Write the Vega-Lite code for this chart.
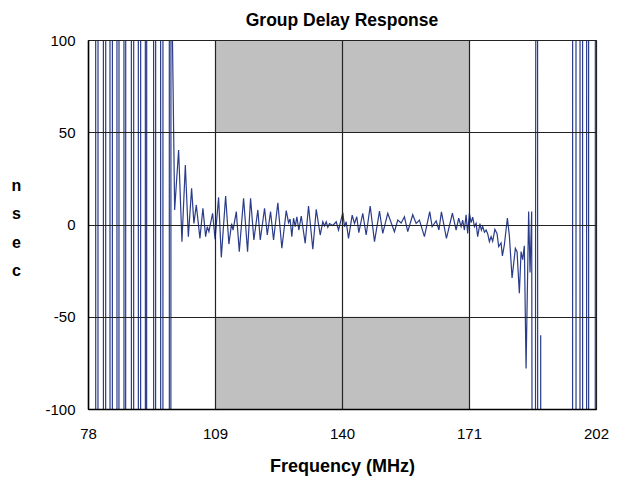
{
  "$schema": "https://vega.github.io/schema/vega-lite/v6.json",
  "width": 508,
  "height": 369,
  "autosize": {"type": "none"},
  "padding": {"left": 88, "top": 40, "right": 25, "bottom": 68},
  "background": "white",
  "config": {"view": {"stroke": "#000", "strokeWidth": 1}, "font": "Liberation Sans"},
  "title": {"text": "Group Delay Response", "fontSize": 17.5, "fontWeight": "bold", "font": "Liberation Sans", "color": "#000", "offset": 4},
  "datasets": {
    "band": [
      {"x1": 109, "x2": 171, "y1": 50, "y2": 100},
      {"x1": 109, "x2": 171, "y1": -100, "y2": -50}
    ],
    "sig": [
      {"f": 78.0, "v": 600}, {"f": 79.85, "v": 600}, {"f": 79.91, "v": -600}, {"f": 80.41, "v": -600}, {"f": 80.47, "v": 600},
      {"f": 81.73, "v": 600}, {"f": 81.79, "v": -600}, {"f": 82.29, "v": -600}, {"f": 82.35, "v": 600},
      {"f": 83.34, "v": 600}, {"f": 83.40, "v": -600}, {"f": 83.92, "v": -600}, {"f": 83.98, "v": 600},
      {"f": 85.04, "v": 600}, {"f": 85.10, "v": -600}, {"f": 85.53, "v": -600}, {"f": 85.59, "v": 600},
      {"f": 86.75, "v": 600}, {"f": 86.81, "v": -600}, {"f": 87.17, "v": -600}, {"f": 87.23, "v": 600},
      {"f": 88.56, "v": 600}, {"f": 88.62, "v": -600}, {"f": 89.12, "v": -600}, {"f": 89.18, "v": 600},
      {"f": 90.26, "v": 600}, {"f": 90.32, "v": -600}, {"f": 90.82, "v": -600}, {"f": 90.88, "v": 600},
      {"f": 91.97, "v": 600}, {"f": 92.03, "v": -600}, {"f": 92.29, "v": -600}, {"f": 92.35, "v": 600},
      {"f": 93.99, "v": 600}, {"f": 94.05, "v": -600}, {"f": 94.48, "v": -600}, {"f": 94.54, "v": 600},
      {"f": 95.70, "v": 600}, {"f": 95.76, "v": -600}, {"f": 96.26, "v": -600}, {"f": 96.32, "v": 600},
      {"f": 97.82, "v": 600}, {"f": 97.88, "v": -600}, {"f": 98.21, "v": -600}, {"f": 98.27, "v": 600},
      {"f": 98.55, "v": 112}, {"f": 99.15, "v": 7.9}, {"f": 100.12, "v": 40.4}, {"f": 100.93, "v": -9.3},
      {"f": 101.76, "v": 32.2}, {"f": 102.49, "v": -6.6}, {"f": 103.29, "v": 19.6}, {"f": 103.85, "v": 0.6},
      {"f": 104.44, "v": 10.6}, {"f": 105.32, "v": -7.5}, {"f": 106.05, "v": 8.8}, {"f": 106.71, "v": -6.6},
      {"f": 107.12, "v": -1.2}, {"f": 107.51, "v": -3.9}, {"f": 108.41, "v": 6.1}, {"f": 109.02, "v": -8},
      {"f": 109.88, "v": 14.7}, {"f": 110.54, "v": -17.8}, {"f": 111.59, "v": 15.4}, {"f": 112.39, "v": -10.6},
      {"f": 113.05, "v": 0.5}, {"f": 113.41, "v": -3}, {"f": 114.20, "v": 7}, {"f": 114.93, "v": -14.7},
      {"f": 115.98, "v": 14.2}, {"f": 116.95, "v": -14.7}, {"f": 117.68, "v": 14.2}, {"f": 118.49, "v": -8.4},
      {"f": 119.46, "v": 7.9}, {"f": 120.05, "v": -8.4}, {"f": 121.10, "v": 8.8}, {"f": 121.76, "v": -5.7},
      {"f": 122.56, "v": 7}, {"f": 123.29, "v": -8.4}, {"f": 124.34, "v": 11.8}, {"f": 125.32, "v": -12.9},
      {"f": 126.39, "v": 7.5}, {"f": 126.95, "v": 1}, {"f": 127.32, "v": 3}, {"f": 127.76, "v": -6.6},
      {"f": 128.17, "v": 3.4}, {"f": 128.59, "v": -1.2}, {"f": 128.98, "v": 4.2}, {"f": 129.46, "v": -3},
      {"f": 130.05, "v": 4.6}, {"f": 131.02, "v": -10.2}, {"f": 131.83, "v": 10}, {"f": 132.88, "v": -13.4},
      {"f": 133.71, "v": 8.2}, {"f": 134.68, "v": -5.7}, {"f": 135.32, "v": 1.5}, {"f": 135.73, "v": -0.8},
      {"f": 136.15, "v": 1.5}, {"f": 136.54, "v": -1.5}, {"f": 136.95, "v": 0.5}, {"f": 137.76, "v": -0.5},
      {"f": 138.59, "v": 1.5}, {"f": 139.15, "v": -3}, {"f": 140.20, "v": 6.4}, {"f": 140.61, "v": -1.2},
      {"f": 141.02, "v": 1.5}, {"f": 141.59, "v": -7.5}, {"f": 142.49, "v": 5.1}, {"f": 143.05, "v": 0.6},
      {"f": 143.61, "v": 4.2}, {"f": 144.10, "v": -4.4}, {"f": 145.07, "v": 6.1}, {"f": 145.90, "v": -5.7},
      {"f": 146.88, "v": 10}, {"f": 147.93, "v": -9.3}, {"f": 149.15, "v": 7.3}, {"f": 149.95, "v": -4.8},
      {"f": 151.17, "v": 6.1}, {"f": 152.80, "v": -3.9}, {"f": 153.61, "v": 2.4}, {"f": 154.44, "v": 0.8},
      {"f": 155.24, "v": 4.2}, {"f": 156.05, "v": -3.9}, {"f": 157.27, "v": 5.3}, {"f": 158.10, "v": 0.6},
      {"f": 158.90, "v": 2.4}, {"f": 160.12, "v": -6.6}, {"f": 161.41, "v": 7}, {"f": 162.00, "v": -1.2},
      {"f": 162.98, "v": 2}, {"f": 163.66, "v": -3}, {"f": 164.27, "v": 6.8}, {"f": 165.49, "v": -7.5},
      {"f": 166.95, "v": 6.1}, {"f": 167.85, "v": -3}, {"f": 168.49, "v": 3.4}, {"f": 169.07, "v": -1.2},
      {"f": 169.46, "v": 2.4}, {"f": 169.88, "v": -3}, {"f": 170.29, "v": 5.3}, {"f": 170.68, "v": -4.8},
      {"f": 171.10, "v": 6.1}, {"f": 171.51, "v": 1}, {"f": 171.90, "v": 4}, {"f": 172.32, "v": -1.2},
      {"f": 172.73, "v": 0.6}, {"f": 173.12, "v": -6.6}, {"f": 173.66, "v": 0.5}, {"f": 174.02, "v": -3},
      {"f": 174.34, "v": -1}, {"f": 174.76, "v": -4.2}, {"f": 175.17, "v": -3}, {"f": 175.56, "v": -5},
      {"f": 175.98, "v": -9.3}, {"f": 176.39, "v": -6.6}, {"f": 176.78, "v": -9}, {"f": 177.32, "v": -2.6},
      {"f": 177.85, "v": -5}, {"f": 178.24, "v": -12}, {"f": 178.83, "v": -10}, {"f": 179.15, "v": -17},
      {"f": 179.63, "v": -11}, {"f": 180.37, "v": 3.5}, {"f": 180.85, "v": -6}, {"f": 181.51, "v": -29},
      {"f": 182.32, "v": -12.9}, {"f": 182.73, "v": -14.7}, {"f": 183.29, "v": -37.3}, {"f": 183.71, "v": -14.7},
      {"f": 184.10, "v": -19}, {"f": 184.51, "v": -11.5}, {"f": 184.93, "v": -78}, {"f": 185.56, "v": 7},
      {"f": 185.90, "v": -26}, {"f": 186.30, "v": 7}, {"f": 186.75, "v": -600}, {"f": 187.15, "v": -600},
      {"f": 187.25, "v": 6}, {"f": 187.55, "v": 600}, {"f": 187.70, "v": 600}, {"f": 187.80, "v": -600},
      {"f": 188.45, "v": -600}, {"f": 188.50, "v": -60}, {"f": 188.55, "v": -600},
      {"f": 196.26, "v": -600}, {"f": 196.32, "v": 600}, {"f": 197.09, "v": 600}, {"f": 197.15, "v": -600},
      {"f": 198.07, "v": -600}, {"f": 198.13, "v": 600}, {"f": 198.70, "v": 600}, {"f": 198.76, "v": -600},
      {"f": 199.68, "v": -600}, {"f": 199.74, "v": 600}, {"f": 200.17, "v": 600}, {"f": 200.23, "v": -600},
      {"f": 201.80, "v": -600}, {"f": 201.86, "v": 600}, {"f": 202.0, "v": 600}
    ]
  },
  "layer": [
    {
      "data": {"name": "band"},
      "mark": {"type": "rect", "color": "#C0C0C0"},
      "encoding": {
        "x": {"field": "x1", "type": "quantitative", "title": "Frequency (MHz)",
          "scale": {"domain": [78, 202], "nice": false, "zero": false},
          "axis": {"values": [78, 109, 140, 171, 202], "grid": true, "gridColor": "#222", "gridWidth": 1.2, "ticks": false,
            "domainColor": "#000", "domainWidth": 1.5, "labelFont": "Liberation Sans", "labelFontSize": 15, "labelColor": "#000",
            "labelPadding": 17, "labelFlush": false, "labelExpr": "'' + datum.value", "titleFont": "Liberation Sans", "titleFontSize": 18, "titleFontWeight": "bold",
            "titleColor": "#000", "titleBaseline": "middle", "titleY": 57, "zindex": 1}},
        "x2": {"field": "x2"},
        "y": {"field": "y1", "type": "quantitative", "title": ["n", "s", "e", "c"],
          "scale": {"domain": [-100, 100], "nice": false},
          "axis": {"values": [-100, -50, 0, 50, 100], "grid": true, "gridColor": "#222", "gridWidth": 1.2, "ticks": false,
            "domainColor": "#000", "domainWidth": 1.5, "labelFont": "Liberation Sans", "labelFontSize": 15, "labelColor": "#000",
            "labelPadding": 13, "labelExpr": "'' + datum.value", "titleFont": "Liberation Sans", "titleFontSize": 16, "titleFontWeight": "bold", "titleColor": "#000",
            "titleAngle": 0, "titleAlign": "center", "titleBaseline": "middle", "titleX": -72, "titleY": 145, "titleLineHeight": 28.5, "zindex": 1}},
        "y2": {"field": "y2"}
      }
    },
    {
      "data": {"name": "sig"},
      "mark": {"type": "line", "color": "#2A3C8A", "strokeWidth": 1.2, "clip": true},
      "encoding": {
        "x": {"field": "f", "type": "quantitative", "title": "Frequency (MHz)"},
        "y": {"field": "v", "type": "quantitative", "title": ["n", "s", "e", "c"]}
      }
    }
  ]
}
